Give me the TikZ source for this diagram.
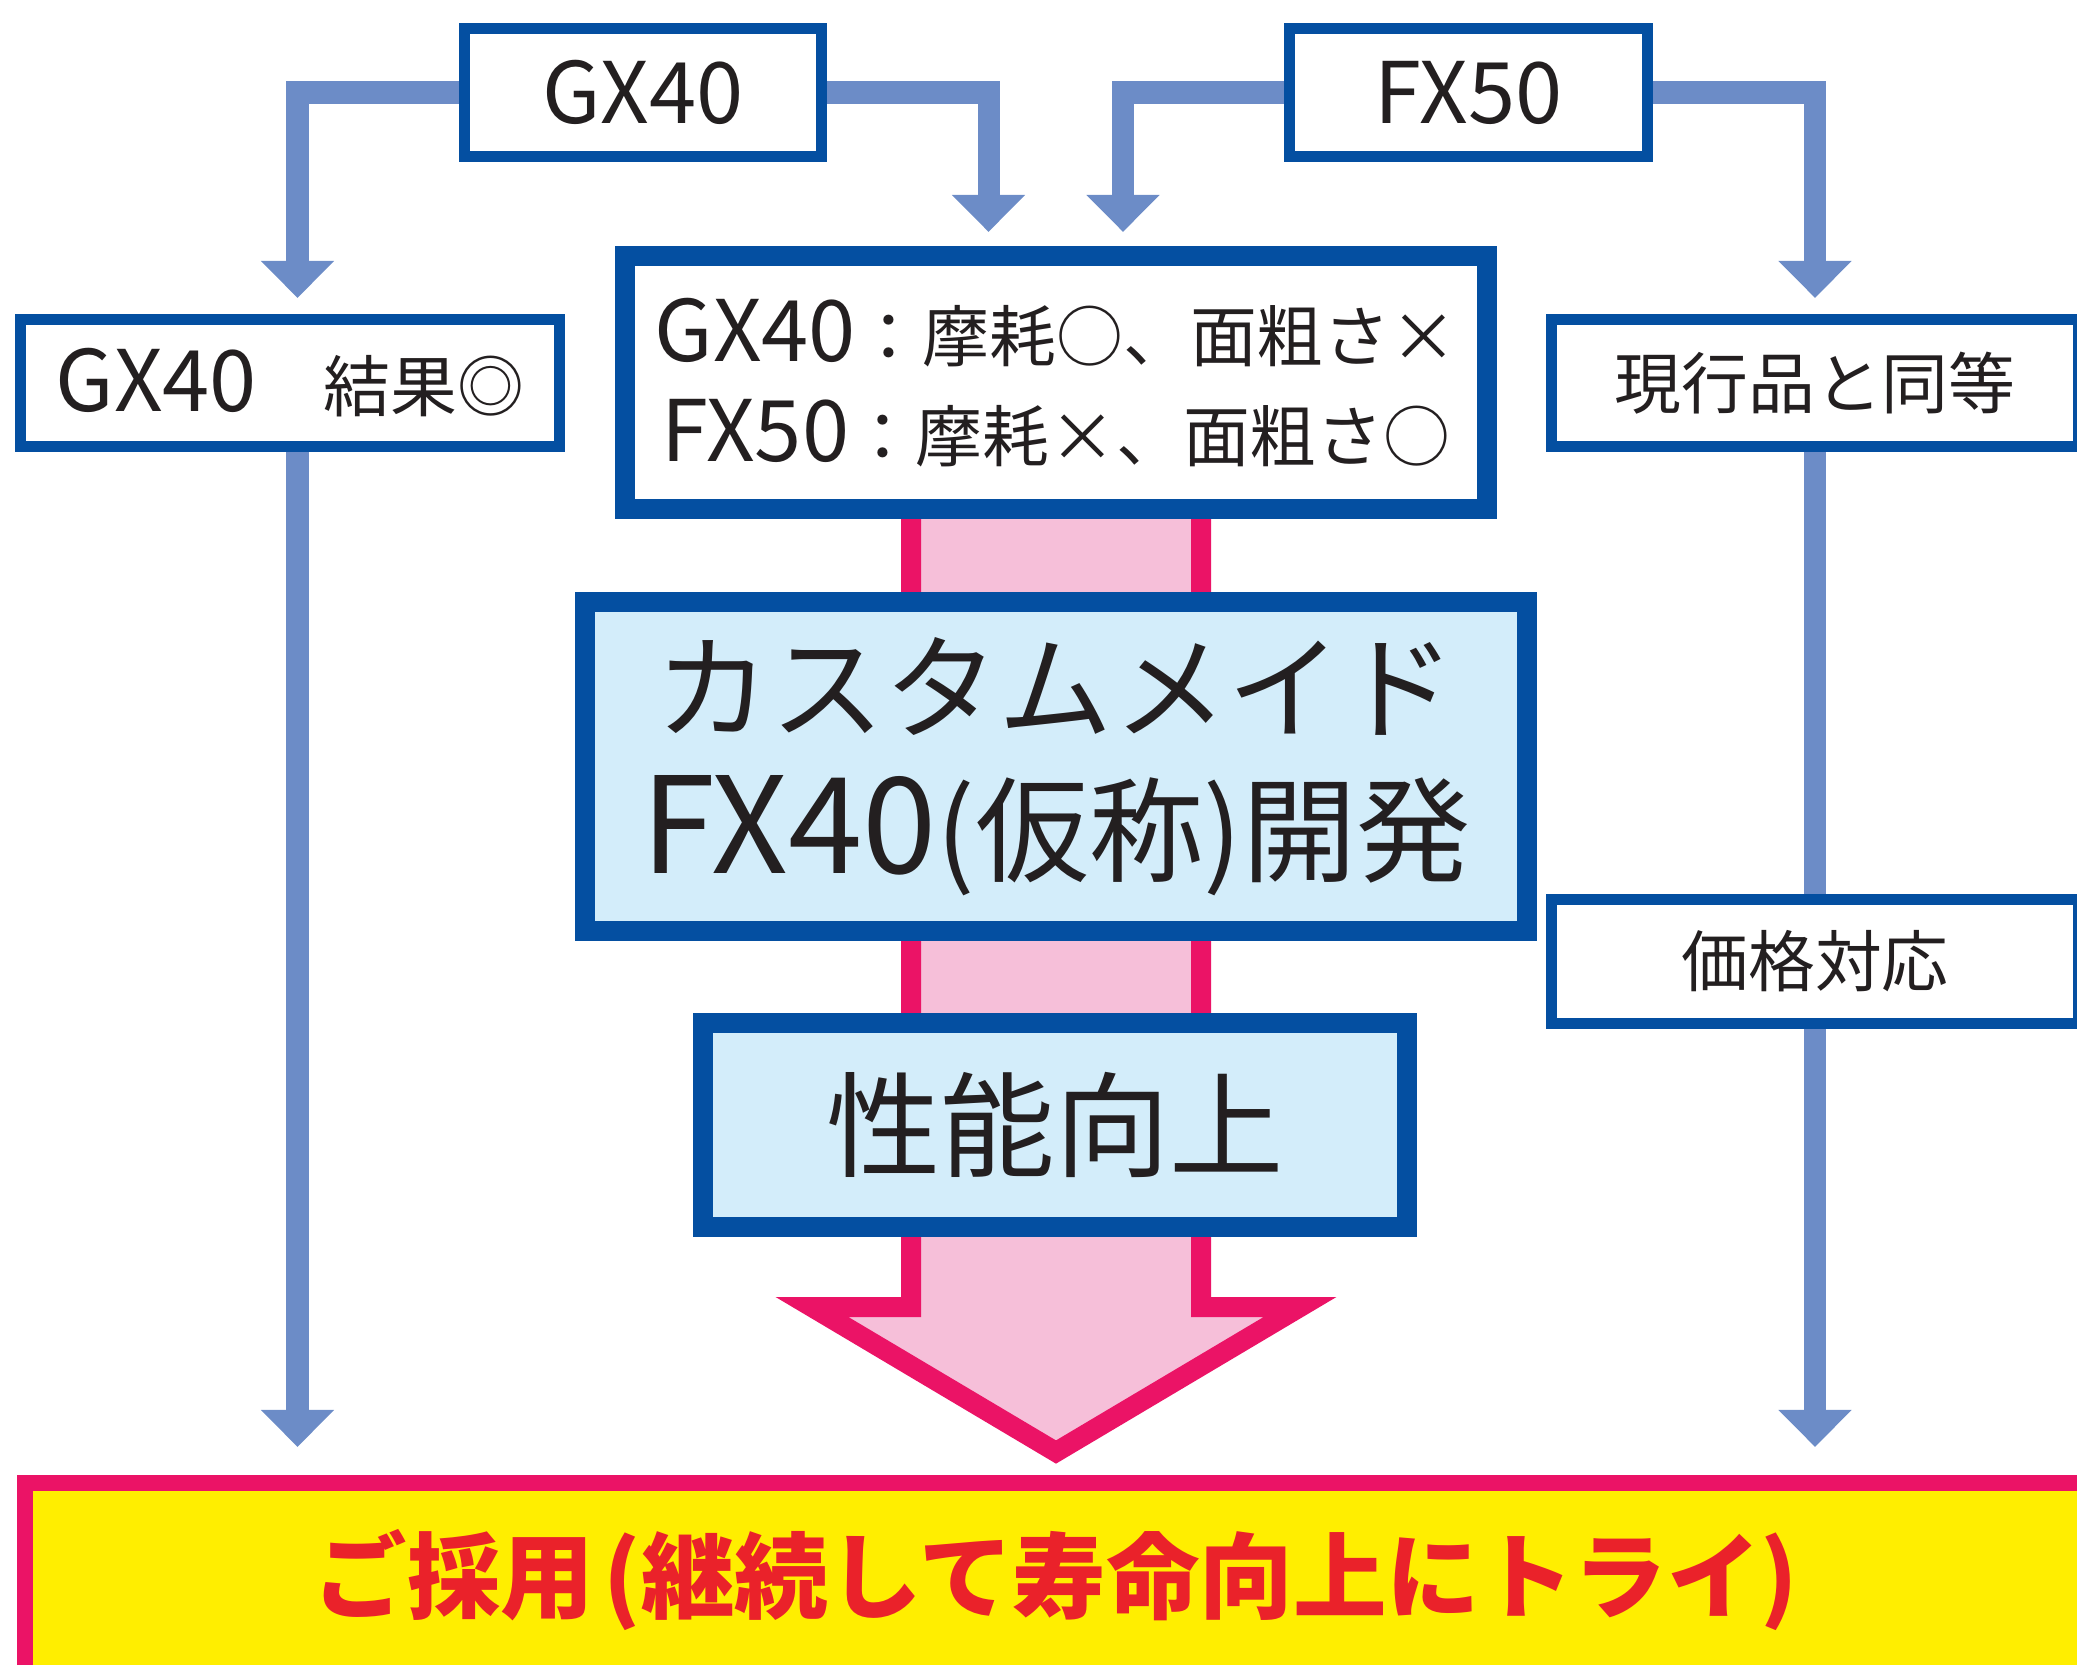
\documentclass[tikz,border=0pt]{standalone}
\usepackage{fontspec}
\setmainfont{Noto Sans CJK JP}
\newfontfamily\latin{Noto Sans CJK JP}[Scale=1.27]
\newfontfamily\latinbig{Noto Sans CJK JP}[Scale=1.17]
\usetikzlibrary{arrows.meta,calc,backgrounds}
\definecolor{boxblue}{RGB}{4,79,161}
\definecolor{connblue}{RGB}{108,140,199}
\definecolor{lightfill}{RGB}{211,237,250}
\definecolor{pinkfill}{RGB}{246,191,217}
\definecolor{magred}{RGB}{235,19,102}
\definecolor{goalyellow}{RGB}{255,238,0}
\definecolor{goalred}{RGB}{234,34,42}
\definecolor{txt}{RGB}{35,31,32}
\newcommand\fsmall{\fontsize{19}{28.5}\selectfont}
\newcommand\fbig{\fontsize{32.5}{38.4}\selectfont}
\newcommand\fgoal{\fontsize{26.6}{30}\selectfont\bfseries}
\begin{document}
\begin{tikzpicture}[x=0.01cm,y=-0.01cm,
  sbox/.style={draw=boxblue, line width=0.11cm, fill=white, inner sep=0pt, text=txt, font=\fsmall, align=center},
  tbox/.style={draw=boxblue, line width=0.2cm, fill=white, inner sep=0pt, text=txt, align=center},
  conn/.style={draw=connblue, line width=0.22cm, -{Triangle[length=0.37cm,width=0.71cm]}},
  plain/.style={draw=connblue, line width=0.22cm},
  bigarrow/.style={draw=magred, fill=pinkfill, line width=0.2cm}]
\useasboundingbox (0,0) rectangle (2077,1664);
\clip (0,0) rectangle (2077,1664);

% boxes
\node[sbox, minimum width=3.57cm, minimum height=1.28cm] (gx40) at (643,92.5) {\latin GX40};
\node[sbox, minimum width=3.58cm, minimum height=1.28cm] (fx50) at (1468.5,92.5) {\latin FX50};
\node[sbox, minimum width=5.39cm, minimum height=1.27cm] (res) at (290,383) {{\latin GX40}\hspace{1em}結果◎};
\node[sbox, minimum width=5.27cm, minimum height=1.27cm] (same) at (1815,383) {現行品と同等};
\node[sbox, minimum width=5.27cm, minimum height=1.24cm] (price) at (1815,961.5) {価格対応};
\node[tbox, font=\fsmall, minimum width=8.62cm, minimum height=2.53cm] (cmp) at (1056,382.5)
  {{\latin GX40}：摩耗○、面粗さ×\\{\latin FX50}：摩耗×、面粗さ○};
\node[tbox, fill=lightfill, font=\fbig, minimum width=9.42cm, minimum height=3.29cm] (dev) at (1056,766.5)
  {カスタムメイド\\[0.08cm]{\latinbig FX40}(仮称)開発};
\node[tbox, fill=lightfill, font=\fbig, minimum width=7.04cm, minimum height=2.03cm] (perf) at (1055,1125) {性能向上};
\node[draw=magred, line width=0.16cm, fill=goalyellow, inner sep=0pt, text=goalred, font=\fgoal,
  minimum width=20.6cm, minimum height=1.94cm] (goal) at (1056,1580)
  {ご採用\hspace{0.1em}(継続して寿命向上にトライ)};

% connector end points
\coordinate (t1) at ($(res.north)+(7.5,-16)$);
\coordinate (t2) at ($(cmp.north)+(-67.5,-14)$);
\coordinate (t3) at ($(cmp.north)+(67,-14)$);
\coordinate (t4) at ($(same.north)+(0,-16)$);
\coordinate (lb) at ($(res.south)+(7.5,0)$);
\coordinate (t5) at ($(goal.north -| lb)+(0,-28)$);
\coordinate (t6) at ($(goal.north -| price.south)+(0,-28)$);

\begin{scope}[on background layer]
  \draw[bigarrow] (911,500) -- (911,1307) -- (812,1307) -- (1056,1452) -- (1300,1307) -- (1201,1307) -- (1201,500) -- cycle;
  \draw[conn] (gx40.west) -| (t1);
  \draw[conn] (gx40.east) -| (t2);
  \draw[conn] (fx50.west) -| (t3);
  \draw[conn] (fx50.east) -| (t4);
  \draw[conn] (lb) -- (t5);
  \draw[plain] (same.south) -- (price.north);
  \draw[conn] (price.south) -- (t6);
\end{scope}
\end{tikzpicture}
\end{document}
